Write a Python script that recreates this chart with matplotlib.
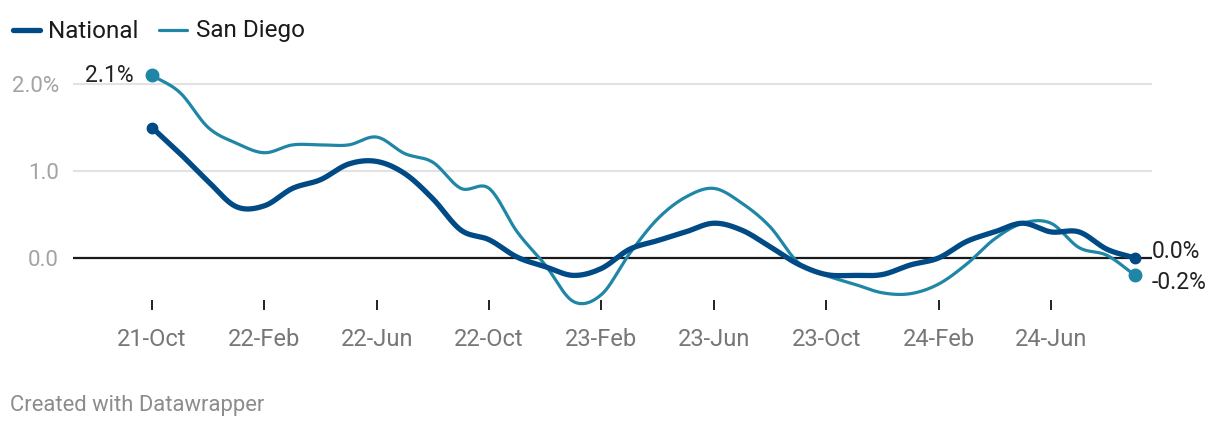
import numpy as np
from matplotlib import pyplot as plt
from matplotlib.lines import Line2D

plt.rcParams['font.family'] = ['Roboto', 'DejaVu Sans']

months = ['21-Oct', '21-Nov', '21-Dec', '22-Jan', '22-Feb', '22-Mar', '22-Apr', '22-May',
          '22-Jun', '22-Jul', '22-Aug', '22-Sep', '22-Oct', '22-Nov', '22-Dec', '23-Jan',
          '23-Feb', '23-Mar', '23-Apr', '23-May', '23-Jun', '23-Jul', '23-Aug', '23-Sep',
          '23-Oct', '23-Nov', '23-Dec', '24-Jan', '24-Feb', '24-Mar', '24-Apr', '24-May',
          '24-Jun', '24-Jul', '24-Aug', '24-Sep']
national = [1.5, 1.2, 0.88, 0.59, 0.6, 0.8, 0.9, 1.08, 1.11, 0.97, 0.68, 0.32,
            0.21, 0.01, -0.1, -0.2, -0.12, 0.1, 0.2, 0.3, 0.4, 0.32, 0.13, -0.07,
            -0.19, -0.2, -0.19, -0.08, 0.0, 0.19, 0.3, 0.4, 0.3, 0.3, 0.1, 0.0]
san_diego = [2.1, 1.9, 1.5, 1.32, 1.21, 1.3, 1.3, 1.3, 1.39, 1.2, 1.1, 0.8,
             0.8, 0.3, -0.08, -0.5, -0.42, 0.05, 0.45, 0.7, 0.8, 0.63, 0.36, -0.05,
             -0.2, -0.3, -0.4, -0.41, -0.3, -0.07, 0.22, 0.4, 0.4, 0.12, 0.03, -0.2]
tick_months = ['21-Oct', '22-Feb', '22-Jun', '22-Oct', '23-Feb', '23-Jun', '23-Oct', '24-Feb', '24-Jun']
y_ticks = [0.0, 1.0, 2.0]
y_labels = ['0.0', '1.0', '2.0%']

NATIONAL_COLOR = '#004a85'
SD_COLOR = '#2086a6'
W, H = 1220, 428


def smooth(x, y, n=24):
    # Catmull-Rom spline through the points
    x = np.asarray(x, float)
    y = np.asarray(y, float)
    px = np.concatenate([[2 * x[0] - x[1]], x, [2 * x[-1] - x[-2]]])
    py = np.concatenate([[2 * y[0] - y[1]], y, [2 * y[-1] - y[-2]]])
    t = np.linspace(0, 1, n, endpoint=False)
    xs, ys = [], []
    for k in range(1, len(px) - 2):
        for arr, out in ((px, xs), (py, ys)):
            p0, p1, p2, p3 = arr[k - 1], arr[k], arr[k + 1], arr[k + 2]
            out.append(0.5 * (2 * p1 + (-p0 + p2) * t + (2 * p0 - 5 * p1 + 4 * p2 - p3) * t**2
                              + (-p0 + 3 * p1 - 3 * p2 + p3) * t**3))
    xs.append([x[-1]])
    ys.append([y[-1]])
    return np.concatenate(xs), np.concatenate(ys)


fig = plt.figure(figsize=(W / 100, H / 100), dpi=100)
left, right, top, bottom = 73, 1152, 60, 300
ax = fig.add_axes([left / W, 1 - bottom / H, (right - left) / W, (bottom - top) / H])

x = np.arange(len(months))
px0, step = 152, 28.09
ax.set_xlim((left - px0) / step, (right - px0) / step)
ax.set_ylim((258 - bottom) / 87, (258 - top) / 87)

for v in [1.0, 2.0]:
    ax.axhline(v, color='#e2e2e2', lw=1.5, zorder=1)
ax.axhline(0, color='#1a1a1a', lw=1.6, zorder=2)

sx, sy = smooth(x, san_diego)
ax.plot(sx, sy, color=SD_COLOR, lw=2.3, solid_capstyle='round', zorder=3, clip_on=False)
nx, ny = smooth(x, national)
ax.plot(nx, ny, color=NATIONAL_COLOR, lw=3.8, solid_capstyle='round', zorder=4, clip_on=False)

ax.plot([x[0], x[-1]], [san_diego[0], san_diego[-1]], 'o', color=SD_COLOR, ms=9, zorder=5, clip_on=False)
ax.plot([x[0], x[-1]], [national[0], national[-1]], 'o', color=NATIONAL_COLOR, ms=7.5, zorder=6, clip_on=False)

ax.annotate(f'{san_diego[0]:.1f}%', (x[0], san_diego[0]), xytext=(-13, 0), textcoords='offset points',
            ha='right', va='center', fontsize=16.5, color='#222222')
ax.annotate(f'{national[-1]:.1f}%', (x[-1], national[-1]), xytext=(12, 5), textcoords='offset points',
            ha='left', va='center', fontsize=16.5, color='#222222')
ax.annotate(f'{san_diego[-1]:.1f}%', (x[-1], san_diego[-1]), xytext=(12, -5), textcoords='offset points',
            ha='left', va='center', fontsize=16.5, color='#222222')

ax.set_xticks([months.index(m) for m in tick_months])
ax.set_xticklabels(tick_months, fontsize=17, color='#777777')
ax.tick_params(axis='x', length=7, width=1.4, color='#222222', pad=13, direction='out')
ax.set_yticks(y_ticks)
ax.set_yticklabels(y_labels, fontsize=16, color='#a3a3a3')
ax.tick_params(axis='y', length=0, pad=10)
for s in ax.spines.values():
    s.set_visible(False)

# legend
for lx0, lx1, tx, label, color, lw in [(13, 40, 48, 'National', NATIONAL_COLOR, 3.8),
                                         (159, 187, 196, 'San Diego', SD_COLOR, 2.3)]:
    fig.add_artist(Line2D([lx0 / W, lx1 / W], [1 - 30 / H, 1 - 30 / H], color=color, lw=lw,
                          solid_capstyle='round'))
    fig.text(tx / W, 1 - 31 / H, label, fontsize=17.5, color='#1a1a1a', va='center', ha='left')

fig.text(10 / W, 1 - 405 / H, 'Created with Datawrapper', fontsize=15.8, color='#8c8c8c', va='center', ha='left')

fig.savefig('out.png', dpi=100, facecolor='white')
